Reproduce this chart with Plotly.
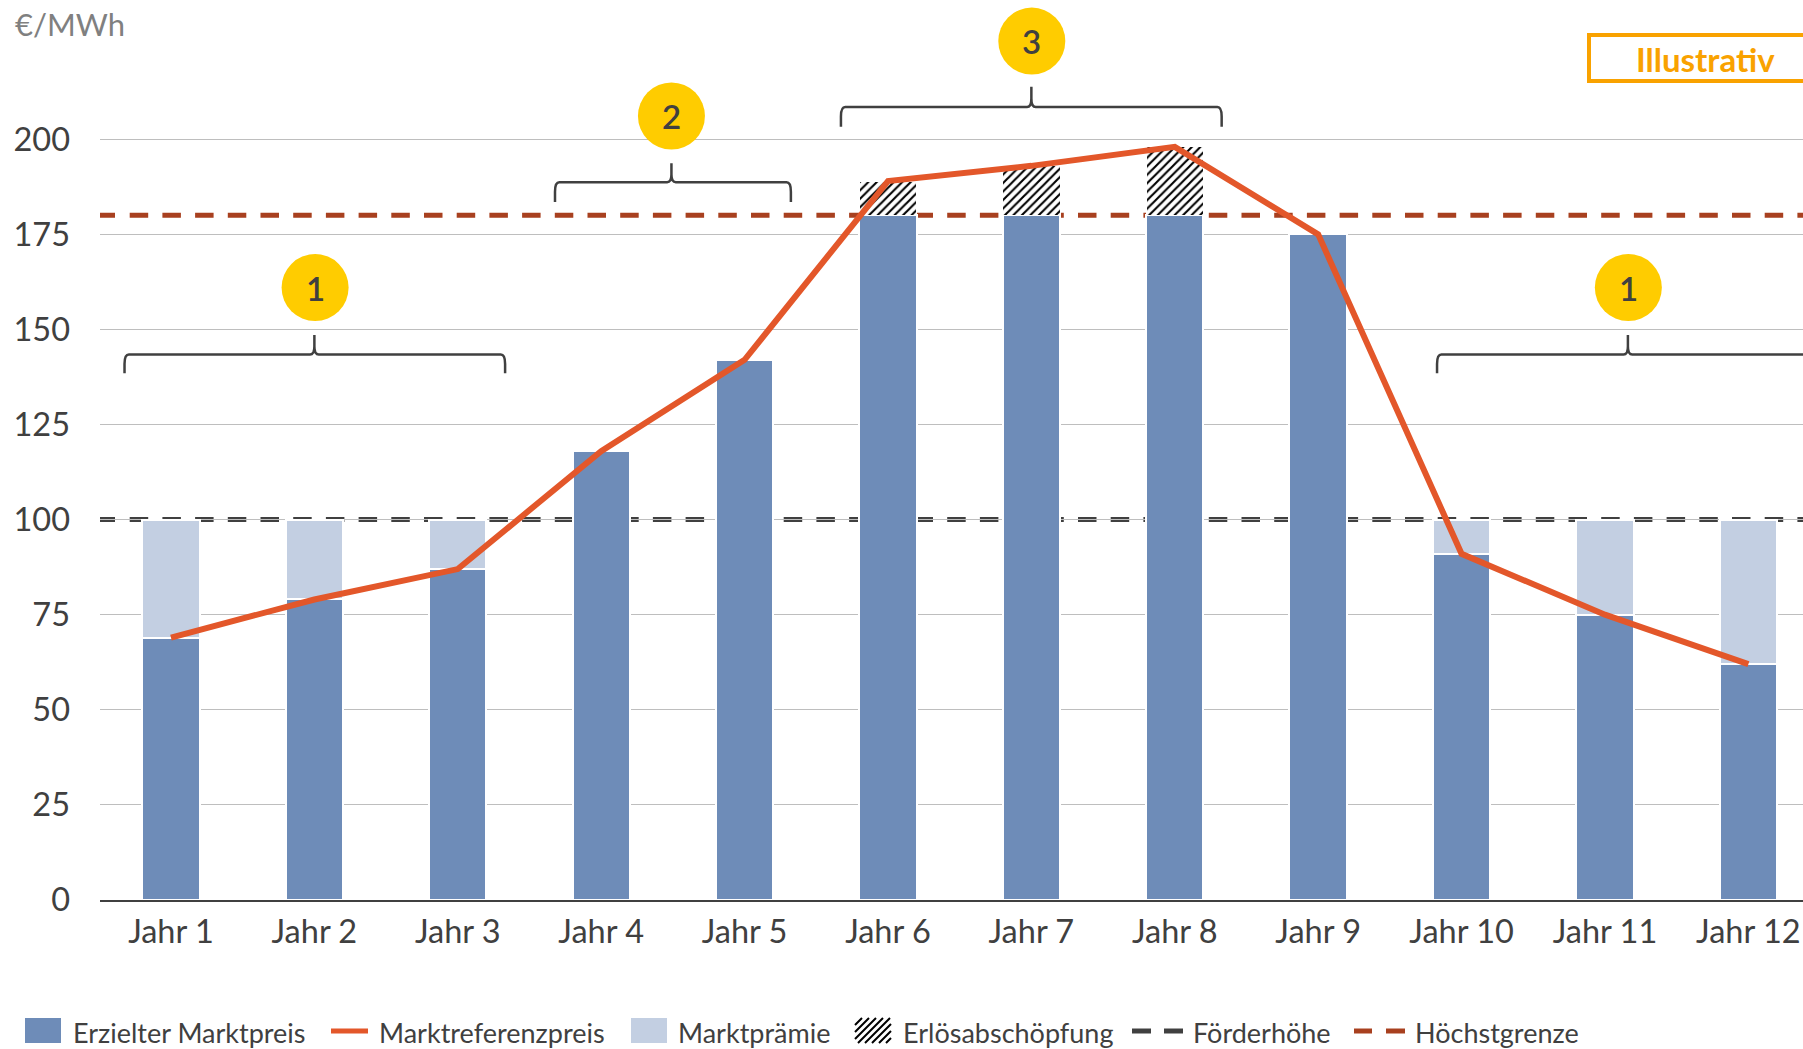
import plotly.graph_objects as go

# Chart data
years = [f"Jahr {i}" for i in range(1, 13)]
marktpreis = [69, 79, 87, 118, 142, 180, 180, 180, 175, 91, 75, 62]
marktreferenzpreis = [69, 79, 87, 118, 142, 189, 193, 198, 175, 91, 75, 62]
marktpraemie = [31, 21, 13, 0, 0, 0, 0, 0, 0, 9, 25, 38]
erloesabschoepfung = [0, 0, 0, 0, 0, 9, 13, 18, 0, 0, 0, 0]
foerderhoehe = 100
hoechstgrenze = 180
y_ticks = [0, 25, 50, 75, 100, 125, 150, 175, 200]
x_pos = list(range(len(years)))

# Numbered callouts: (label, category position, value position)
callouts = [("1", 1.005, 161.0), ("2", 3.49, 206.1), ("3", 6.003, 225.8), ("1", 10.163, 161.0)]
# Braces: (left, right, centre, bottom, shoulder, tip)
braces = [
    (-0.324, 2.33, 1.0, 138.5, 143.4, 148.5),
    (2.678, 4.323, 3.49, 183.5, 188.7, 193.7),
    (4.672, 7.327, 6.0, 203.3, 208.5, 213.8),
    (8.829, 11.5, 10.16, 138.5, 143.4, 148.5),
]

W, H = 1803, 1049
ML, MB = 100, 149
TEXT = "#404040"
FONT = "Lato"
BLUE = "#6E8CB8"
LIGHT_BLUE = "#C3CFE2"
ORANGE = "#E3572A"
DARK_RED = "#A8401F"
YELLOW = "#FFCC00"
AMBER = "#F9A200"
# Shorter first dash, then an even rhythm along both limit lines
LIMIT_DASH = "15px,14.7px," + ",".join(["18.5px,14.2px"] * 53)


def px(x):
    """Page x pixel to paper fraction."""
    return (x - ML) / (W - ML)


def py(y):
    """Page y pixel to paper fraction."""
    return 1 - y / (H - MB)


def brace_path(x0, x1, cx, bottom, shoulder, tip):
    """Curly brace opening downwards, in data coordinates."""
    dx, dy = 0.03, 1.0
    return (
        f"M {x0} {bottom} L {x0} {shoulder - 2.5*dy} Q {x0} {shoulder} {x0 + dx} {shoulder} "
        f"L {cx - dx} {shoulder} Q {cx} {shoulder} {cx} {tip - 3*dy} L {cx} {tip} "
        f"L {cx} {tip - 3*dy} Q {cx} {shoulder} {cx + dx} {shoulder} "
        f"L {x1 - dx} {shoulder} Q {x1} {shoulder} {x1} {shoulder - 2.5*dy} L {x1} {bottom}"
    )


def hatch_path(x0, x1, y0, y1, step=7):
    """Diagonal stripes filling a rectangle given in page pixels."""
    w, h = x1 - x0, y1 - y0
    parts = []
    t = -h
    while t < w:
        a, b = max(t, 0), min(t + h, w)
        parts.append(f"M {px(x0 + a)} {py(y1 - (a - t))} L {px(x0 + b)} {py(y1 - (b - t))}")
        t += step
    return " ".join(parts)


outline = dict(color="white", width=2)
fig = go.Figure()
fig.add_bar(x=x_pos, y=marktpreis, name="Erzielter Marktpreis",
            marker=dict(color=BLUE, line=outline))
fig.add_bar(x=x_pos, y=marktpraemie, name="Marktprämie",
            marker=dict(color=LIGHT_BLUE, line=outline))
fig.add_bar(x=x_pos, y=erloesabschoepfung, name="Erlösabschöpfung",
            marker=dict(color="white", line=dict(color="white", width=1),
                        pattern=dict(shape="/", size=6, solidity=0.35, fgopacity=1,
                                     fgcolor="black", bgcolor="white")))
fig.add_scatter(x=x_pos, y=marktreferenzpreis, name="Marktreferenzpreis", mode="lines",
                line=dict(color=ORANGE, width=6))
fig.add_scatter(x=[c[1] for c in callouts], y=[c[2] for c in callouts],
                mode="markers", hoverinfo="skip", cliponaxis=False,
                marker=dict(color=YELLOW, size=67, line=dict(width=0)))

shapes = [
    dict(type="line", xref="paper", x0=0, x1=1, y0=foerderhoehe, y1=foerderhoehe, layer="below",
         line=dict(color=TEXT, width=5, dash=LIMIT_DASH)),
    dict(type="line", xref="paper", x0=0, x1=1, y0=hoechstgrenze, y1=hoechstgrenze, layer="below",
         line=dict(color=DARK_RED, width=5, dash=LIMIT_DASH)),
]
for b in braces:
    shapes.append(dict(type="path", path=brace_path(*b), xref="x", yref="y",
                       line=dict(color=TEXT, width=2.5)))
# "Illustrativ" frame running off the right edge
shapes.append(dict(type="rect", xref="paper", yref="paper", x0=px(1589), x1=1.02,
                   y0=py(81), y1=py(35), line=dict(color=AMBER, width=4),
                   fillcolor="rgba(0,0,0,0)"))

annotations = [
    dict(text="€/MWh", xref="paper", yref="paper", x=px(13), y=py(24),
         xanchor="left", yanchor="middle", showarrow=False, align="left",
         font=dict(family=FONT, size=31, color="#808080")),
    dict(text="Illustrativ", xref="paper", yref="paper", x=px(1705), y=py(59),
         xanchor="center", yanchor="middle", showarrow=False,
         font=dict(family=FONT, size=33, color=AMBER, weight=700)),
]
for label, x, y in callouts:
    annotations.append(dict(text=label, x=x, y=y, xref="x", yref="y", xanchor="center",
                            yanchor="middle", showarrow=False, yshift=0,
                            font=dict(family=FONT, size=33, color=TEXT, weight=600)))

# Legend row, laid out by hand so the swatches keep their size
LEG_Y = 1032
LEG_TOP, LEG_BOTTOM = 1018, 1043
legend_labels = [
    ("Erzielter Marktpreis", 71),
    ("Marktreferenzpreis", 377),
    ("Marktprämie", 676),
    ("Erlösabschöpfung", 901),
    ("Förderhöhe", 1191),
    ("Höchstgrenze", 1413),
]
for label, x in legend_labels:
    annotations.append(dict(text=label, xref="paper", yref="paper", x=px(x), y=py(LEG_Y),
                            xanchor="left", yanchor="middle", showarrow=False,
                            font=dict(family=FONT, size=27, color=TEXT)))
for x0, color in ((25, BLUE), (631, LIGHT_BLUE)):
    shapes.append(dict(type="rect", xref="paper", yref="paper", x0=px(x0), x1=px(x0 + 36),
                       y0=py(LEG_BOTTOM), y1=py(LEG_TOP), fillcolor=color, line=dict(width=0)))
shapes.append(dict(type="path", xref="paper", yref="paper",
                   path=hatch_path(855, 891, LEG_TOP, LEG_BOTTOM),
                   line=dict(color="black", width=2)))
for x0, x1, color in ((331, 368, ORANGE), (1132, 1151, TEXT), (1164, 1183, TEXT),
                      (1354, 1372, DARK_RED), (1386, 1405, DARK_RED)):
    shapes.append(dict(type="line", xref="paper", yref="paper", x0=px(x0), x1=px(x1),
                       y0=py(1031), y1=py(1031), line=dict(color=color, width=5)))

fig.update_layout(
    width=W, height=H, margin=dict(l=ML, r=0, t=0, b=MB, autoexpand=False),
    paper_bgcolor="white", plot_bgcolor="white", barmode="stack", bargap=0.6,
    font=dict(family=FONT, size=32, color=TEXT), showlegend=False,
    shapes=shapes, annotations=annotations,
    xaxis=dict(range=[-0.495, 11.381], tickvals=x_pos, ticktext=years, showgrid=False,
               showline=True, linecolor=TEXT, linewidth=2, ticks="", zeroline=False,
               ticklabelstandoff=2, tickfont=dict(family=FONT, size=32.5, color=TEXT)),
    yaxis=dict(range=[0, 236.6], tickvals=y_ticks, gridcolor="#BEBEBE", gridwidth=1.2,
               zeroline=False, showline=False, ticks="", ticklabelstandoff=29,
               tickfont=dict(family=FONT, size=32.5, color=TEXT)),
)

fig.write_html("out.html")
